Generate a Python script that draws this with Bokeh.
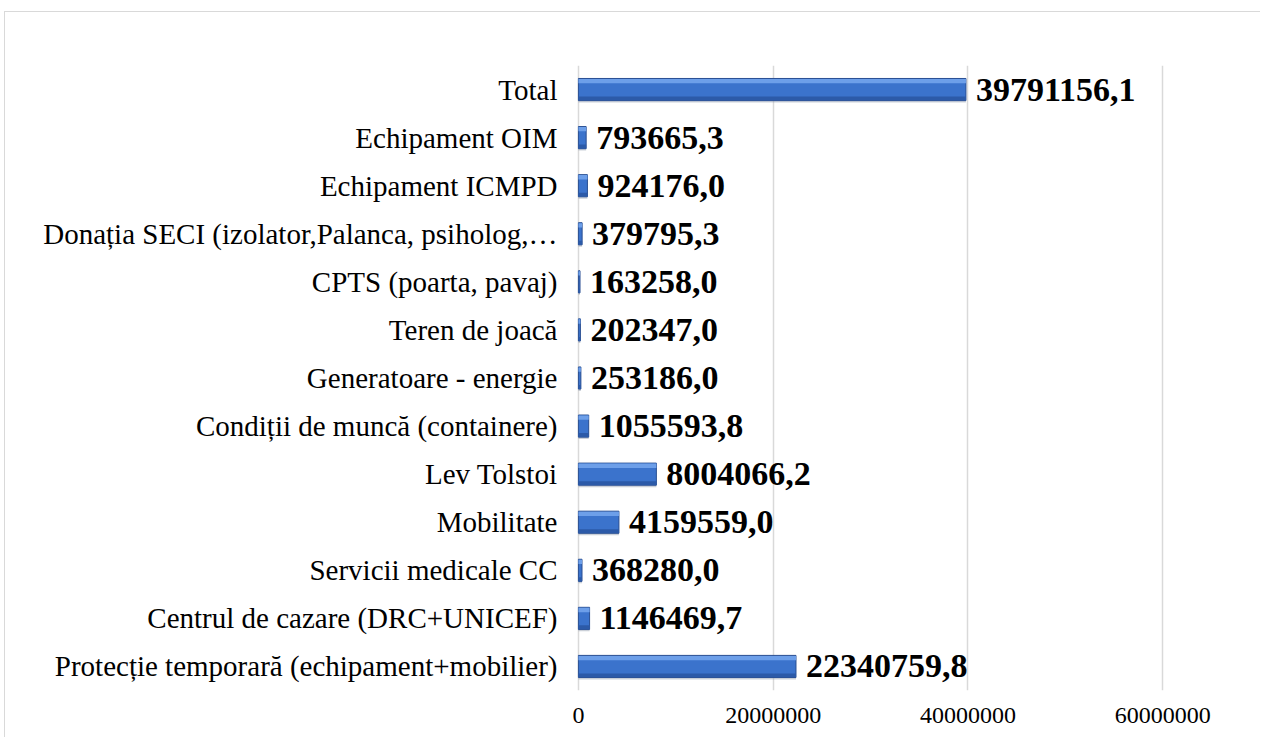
from bokeh.plotting import figure
from bokeh.models import Range1d, FixedTicker, ColumnDataSource
from bokeh.core.properties import value
from bokeh.embed import file_html
from bokeh.resources import INLINE

# Data (bottom to top, as in the source chart)
categories = [
    "Protecție temporară (echipament+mobilier)",
    "Centrul de cazare (DRC+UNICEF)",
    "Servicii medicale CC",
    "Mobilitate",
    "Lev Tolstoi",
    "Condiții de muncă (containere)",
    "Generatoare - energie",
    "Teren de joacă",
    "CPTS (poarta, pavaj)",
    "Donația SECI (izolator,Palanca, psiholog,…",
    "Echipament ICMPD",
    "Echipament OIM",
    "Total",
]
values = [
    22340759.8, 1146469.7, 368280.0, 4159559.0, 8004066.2, 1055593.8,
    253186.0, 202347.0, 163258.0, 379795.3, 924176.0, 793665.3, 39791156.1,
]
value_labels = [
    "22340759,8", "1146469,7", "368280,0", "4159559,0", "8004066,2", "1055593,8",
    "253186,0", "202347,0", "163258,0", "379795,3", "924176,0", "793665,3", "39791156,1",
]
x_ticks = [0, 20000000, 40000000, 60000000]
x_tick_labels = ["0", "20000000", "40000000", "60000000"]

ys = list(range(len(categories)))
src = ColumnDataSource(dict(
    y=ys,
    y_top=[y + 0.175 for y in ys],
    y_bot=[y - 0.185 for y in ys],
    y_sh=[y - 0.04 for y in ys],
    v=values,
    lbl=value_labels,
))

SERIF = "Liberation Serif"

p = figure(
    width=1256, height=726,
    x_range=Range1d(-300000, 61000000),
    y_range=Range1d(-0.5, len(categories) - 0.5),
    output_backend="svg", toolbar_location=None,
    min_border_left=570, min_border_right=89,
    min_border_top=53, min_border_bottom=48,
)
p.styles = {
    "margin-left": "4px", "margin-top": "11px",
    "border-left": "1px solid #d9d9d9", "border-top": "1px solid #d9d9d9",
}
p.outline_line_color = None
p.background_fill_color = "white"
p.border_fill_color = "white"

# grid
p.ygrid.visible = False
p.xgrid.ticker = FixedTicker(ticks=x_ticks)
p.xgrid.grid_line_color = "#d9d9d9"
p.xgrid.grid_line_width = 1.5

# bars with a bevelled look
p.hbar(y="y_sh", left=0, right="v", height=0.46, source=src,
       fill_color="#8c96a8", fill_alpha=0.45, line_color=None)
p.hbar(y="y", left=0, right="v", height=0.46, source=src,
       fill_color="#3b73cc", line_color="#2a4f92", line_width=1)
p.hbar(y="y_top", left=0, right="v", height=0.09, source=src,
       fill_color="#6d9fe9", line_color=None)
p.hbar(y="y_bot", left=0, right="v", height=0.08, source=src,
       fill_color="#2c5aa8", line_color=None)

# value labels
p.text(x="v", y="y", text="lbl", source=src, x_offset=10,
       text_baseline="middle", text_align="left",
       text_font=value(SERIF), text_font_style="bold",
       text_font_size="34px", text_color="black")

# y axis
yax = p.yaxis[0]
yax.ticker = FixedTicker(ticks=ys)
yax.major_label_overrides = {i: c for i, c in enumerate(categories)}
yax.axis_line_color = None
yax.major_tick_line_color = None
yax.minor_tick_line_color = None
yax.major_tick_out = 0
yax.major_tick_in = 0
yax.major_label_standoff = 18
yax.major_label_text_font = SERIF
yax.major_label_text_font_size = "29px"
yax.major_label_text_color = "black"

# x axis
xax = p.xaxis[0]
xax.ticker = FixedTicker(ticks=x_ticks)
xax.major_label_overrides = {t: l for t, l in zip(x_ticks, x_tick_labels)}
xax.axis_line_color = None
xax.major_tick_line_color = None
xax.minor_tick_line_color = None
xax.major_tick_out = 0
xax.major_tick_in = 0
xax.major_label_standoff = 17
xax.major_label_text_font = SERIF
xax.major_label_text_font_size = "24px"
xax.major_label_text_color = "black"

open("out.html", "w").write(file_html(p, INLINE))
